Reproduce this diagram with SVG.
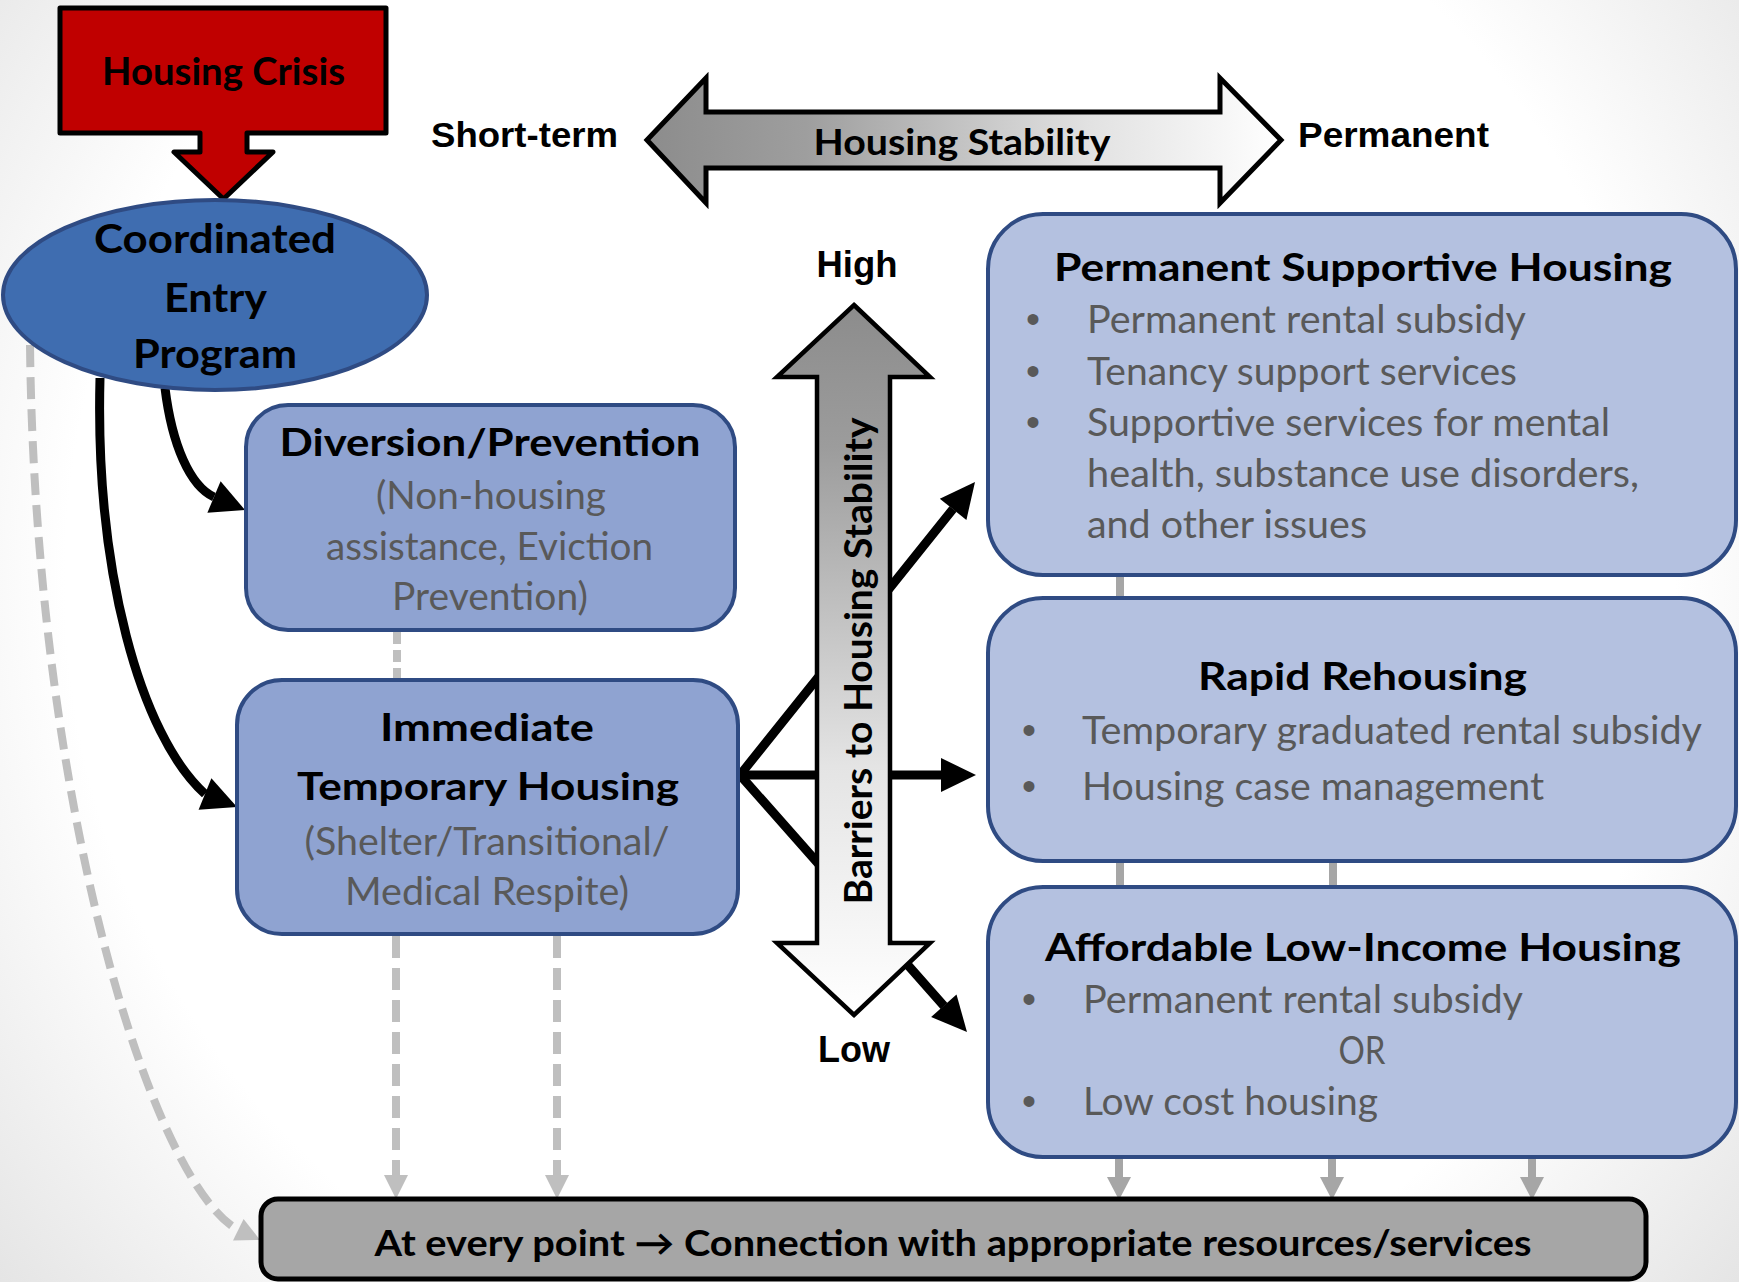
<svg xmlns="http://www.w3.org/2000/svg" width="1739" height="1282" viewBox="0 0 1739 1282">
<defs>
<radialGradient id="bg" cx="870" cy="580" r="1150" gradientUnits="userSpaceOnUse">
<stop offset="0.7" stop-color="#ffffff"/>
<stop offset="1" stop-color="#e2e2e2"/>
</radialGradient>
<linearGradient id="hgrad" x1="647" y1="0" x2="1281" y2="0" gradientUnits="userSpaceOnUse">
<stop offset="0" stop-color="#8c8c8c"/>
<stop offset="0.25" stop-color="#9e9e9e"/>
<stop offset="0.7" stop-color="#e2e2e2"/>
<stop offset="1" stop-color="#ffffff"/>
</linearGradient>
<linearGradient id="vgrad" x1="0" y1="305" x2="0" y2="1015" gradientUnits="userSpaceOnUse">
<stop offset="0" stop-color="#8c8c8c"/>
<stop offset="0.2" stop-color="#9c9c9c"/>
<stop offset="0.65" stop-color="#e4e4e4"/>
<stop offset="1" stop-color="#ffffff"/>
</linearGradient>
<style>
.b{font-family:Lato,"Open Sans","Liberation Sans",sans-serif;font-weight:700;fill:#000;}
.r{font-family:Lato,"Open Sans","Liberation Sans",sans-serif;font-weight:400;fill:#595959;}
.a{font-family:"Liberation Sans",Arial,sans-serif;font-weight:700;fill:#000;}
.dot{font-family:"Liberation Sans",Arial,sans-serif;fill:#595959;font-size:40px;text-anchor:middle;}
.mid{text-anchor:middle;}
.box1{fill:#8fa3d1;stroke:#2f4b83;stroke-width:4;}
.box2{fill:#b4c1e0;stroke:#2f4b83;stroke-width:4;}
.blk{fill:none;stroke:#000;stroke-width:9;}
.gd{fill:none;stroke:#bfbfbf;stroke-width:8;stroke-dasharray:22 10;}
.gs{fill:none;stroke:#a6a6a6;stroke-width:8;}
.gh{fill:#a6a6a6;}
.gh2{fill:#bfbfbf;}
</style>
</defs>
<rect x="0" y="0" width="1739" height="1282" fill="url(#bg)"/>

<g id="connectors">
<path class="gd" d="M30,345 C35,800 150,1180 238,1230"/>
<polygon class="gh2" points="260,1240 233,1240.5 243.6,1218.9"/>
<path class="blk" d="M165,388 C172,445 190,486 214,497"/>
<polygon points="245,510 207.4,512.7 220.6,481.3"/>
<path class="blk" d="M100,378 C95,570 140,735 205,794"/>
<polygon points="237,807 198.6,809.8 211.4,778.2"/>
<path class="gd" style="stroke-dasharray:12 6" d="M397,632 L397,680"/>
<path class="gd" d="M396,936 L396,1176"/>
<polygon class="gh2" points="384,1175 408,1175 396,1199"/>
<path class="gd" d="M557,936 L557,1176"/>
<polygon class="gh2" points="545,1175 569,1175 557,1199"/>
<path class="gs" d="M1120,576 L1120,598"/>
<path class="gs" d="M1120,862 L1120,887"/>
<path class="gs" d="M1333,862 L1333,887"/>
<path class="gs" d="M1119,1158 L1119,1178"/>
<polygon class="gh" points="1107,1177 1131,1177 1119,1200"/>
<path class="gs" d="M1332,1158 L1332,1178"/>
<polygon class="gh" points="1320,1177 1344,1177 1332,1200"/>
<path class="gs" d="M1532,1158 L1532,1178"/>
<polygon class="gh" points="1520,1177 1544,1177 1532,1200"/>
<path class="blk" stroke-linejoin="miter" d="M953,509 L740,775 L944,1006"/>
<path class="blk" d="M740,775 L942,775"/>
<polygon points="975,482 966.4,519.9 939.8,498.7"/>
<polygon points="976,775 941,758 941,792"/>
<polygon points="967,1032 931.1,1017.1 956.5,994.5"/>
</g>

<g id="housing-crisis">
<polygon points="60,8 386,8 386,133 247,133 247,152 273,152 223.5,199 174,152 200,152 200,133 60,133" fill="#c00000" stroke="#000" stroke-width="5" stroke-linejoin="round"/>
<text class="b mid" x="223.5" y="85" font-size="38" textLength="243" lengthAdjust="spacingAndGlyphs">Housing Crisis</text>
</g>

<g id="stability-axis">
<polygon points="647,140 706,78 706,112 1220,112 1220,78 1281,140 1220,203 1220,168 706,168 706,203" fill="url(#hgrad)" stroke="#000" stroke-width="5" stroke-linejoin="miter"/>
<text class="b mid" x="962" y="155" font-size="37" textLength="297" lengthAdjust="spacingAndGlyphs">Housing Stability</text>
<text class="a" x="431" y="147" font-size="35" textLength="187" lengthAdjust="spacingAndGlyphs">Short-term</text>
<text class="a" x="1298" y="147" font-size="35" textLength="191" lengthAdjust="spacingAndGlyphs">Permanent</text>
</g>

<g id="coordinated-entry">
<ellipse cx="215" cy="295" rx="212" ry="95" fill="#3f6db0" stroke="#2f4b83" stroke-width="4"/>
<text class="b mid" x="215" y="253" font-size="40" textLength="242" lengthAdjust="spacingAndGlyphs">Coordinated</text>
<text class="b mid" x="215.5" y="312" font-size="40" textLength="103" lengthAdjust="spacingAndGlyphs">Entry</text>
<text class="b mid" x="215" y="368" font-size="40" textLength="164" lengthAdjust="spacingAndGlyphs">Program</text>
</g>

<g id="diversion">
<rect class="box1" x="246" y="405" width="489" height="225" rx="42"/>
<text class="b mid" x="490" y="456" font-size="38" textLength="421" lengthAdjust="spacingAndGlyphs">Diversion/Prevention</text>
<text class="r mid" x="491" y="509" font-size="38" textLength="230" lengthAdjust="spacingAndGlyphs">(Non-housing</text>
<text class="r mid" x="489.5" y="560" font-size="38" textLength="327" lengthAdjust="spacingAndGlyphs">assistance, Eviction</text>
<text class="r mid" x="490" y="610" font-size="38" textLength="196" lengthAdjust="spacingAndGlyphs">Prevention)</text>
</g>

<g id="immediate">
<rect class="box1" x="237" y="680" width="501" height="254" rx="45"/>
<text class="b mid" x="487" y="741" font-size="38" textLength="214" lengthAdjust="spacingAndGlyphs">Immediate</text>
<text class="b mid" x="488" y="800" font-size="38" textLength="382" lengthAdjust="spacingAndGlyphs">Temporary Housing</text>
<text class="r mid" x="487" y="855" font-size="38" textLength="365" lengthAdjust="spacingAndGlyphs">(Shelter/Transitional/</text>
<text class="r mid" x="487" y="905" font-size="38" textLength="284" lengthAdjust="spacingAndGlyphs">Medical Respite)</text>
</g>

<g id="barriers-axis">
<polygon points="854,305 930,377 890,377 890,943 930,943 854,1015 777,943 817,943 817,377 777,377" fill="url(#vgrad)" stroke="#000" stroke-width="4.5" stroke-linejoin="miter"/>
<text class="b mid" transform="translate(872,661) rotate(-90)" x="0" y="0" font-size="38" textLength="487" lengthAdjust="spacingAndGlyphs">Barriers to Housing Stability</text>
<text class="a mid" x="857" y="277" font-size="36" textLength="81" lengthAdjust="spacingAndGlyphs">High</text>
<text class="a mid" x="854" y="1062" font-size="36" textLength="72" lengthAdjust="spacingAndGlyphs">Low</text>
</g>

<g id="psh">
<rect class="box2" x="988" y="214" width="748" height="361" rx="55"/>
<text class="b mid" x="1363" y="281" font-size="38" textLength="618" lengthAdjust="spacingAndGlyphs">Permanent Supportive Housing</text>
<text class="dot" x="1033" y="333">•</text>
<text class="dot" x="1033" y="385">•</text>
<text class="dot" x="1033" y="436">•</text>
<text class="r" x="1087" y="333" font-size="38" textLength="439" lengthAdjust="spacingAndGlyphs">Permanent rental subsidy</text>
<text class="r" x="1087" y="385" font-size="38" textLength="430" lengthAdjust="spacingAndGlyphs">Tenancy support services</text>
<text class="r" x="1087" y="436" font-size="38" textLength="523" lengthAdjust="spacingAndGlyphs">Supportive services for mental</text>
<text class="r" x="1087" y="487" font-size="38" textLength="552" lengthAdjust="spacingAndGlyphs">health, substance use disorders,</text>
<text class="r" x="1087" y="538" font-size="38" textLength="280" lengthAdjust="spacingAndGlyphs">and other issues</text>
</g>

<g id="rapid-rehousing">
<rect class="box2" x="988" y="598" width="748" height="263" rx="55"/>
<text class="b mid" x="1362.5" y="690" font-size="38" textLength="329" lengthAdjust="spacingAndGlyphs">Rapid Rehousing</text>
<text class="dot" x="1029" y="744">•</text>
<text class="dot" x="1029" y="800">•</text>
<text class="r" x="1082" y="744" font-size="38" textLength="620" lengthAdjust="spacingAndGlyphs">Temporary graduated rental subsidy</text>
<text class="r" x="1082" y="800" font-size="38" textLength="462" lengthAdjust="spacingAndGlyphs">Housing case management</text>
</g>

<g id="affordable">
<rect class="box2" x="988" y="887" width="748" height="270" rx="55"/>
<text class="b mid" x="1363" y="961" font-size="38" textLength="636" lengthAdjust="spacingAndGlyphs">Affordable Low-Income Housing</text>
<text class="dot" x="1029" y="1013">•</text>
<text class="dot" x="1029" y="1115">•</text>
<text class="r" x="1083" y="1013" font-size="38" textLength="440" lengthAdjust="spacingAndGlyphs">Permanent rental subsidy</text>
<text class="r mid" x="1362" y="1064" font-size="38" textLength="47" lengthAdjust="spacingAndGlyphs">OR</text>
<text class="r" x="1083" y="1115" font-size="38" textLength="295" lengthAdjust="spacingAndGlyphs">Low cost housing</text>
</g>

<g id="resources-bar">
<rect x="261" y="1199" width="1385" height="80" rx="17" fill="#a6a6a6" stroke="#000" stroke-width="5"/>
<text class="b mid" x="953" y="1256" font-size="36" textLength="1157" lengthAdjust="spacingAndGlyphs">At every point → Connection with appropriate resources/services</text>
</g>
</svg>
